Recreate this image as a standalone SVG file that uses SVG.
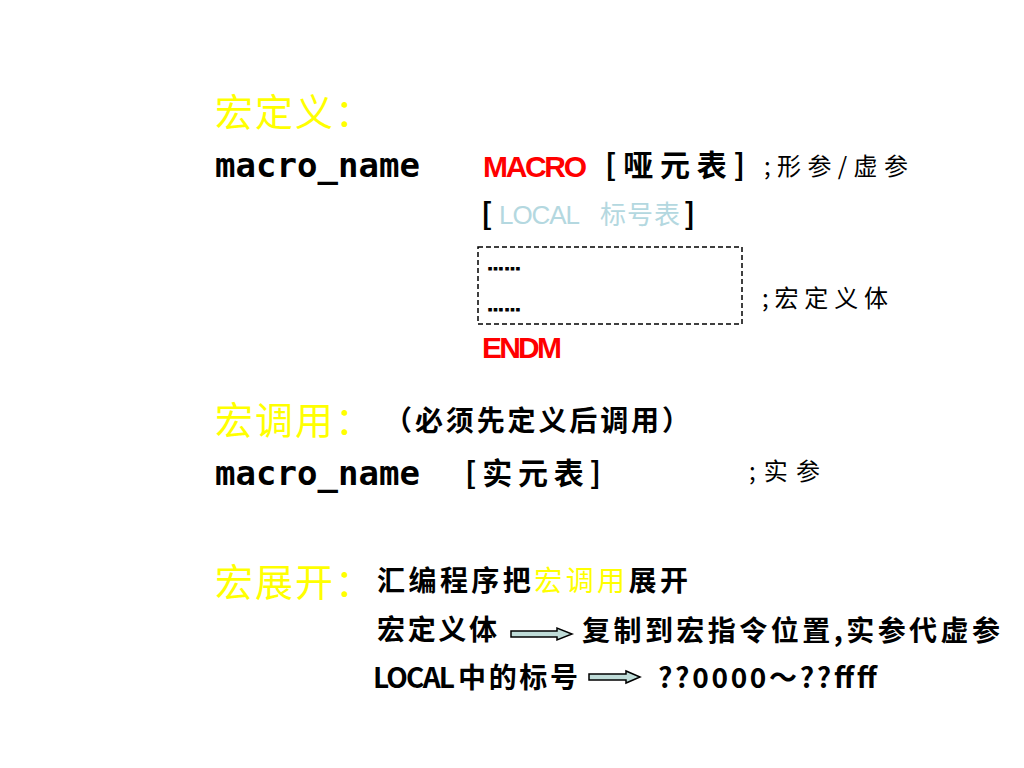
<svg xmlns="http://www.w3.org/2000/svg" width="1024" height="768" viewBox="0 0 1024 768">
<defs>
<style>
.h{font-family:"Noto Sans CJK SC",sans-serif;font-size:38px;letter-spacing:2px;fill:#FFFF00}
.mono{font-family:"DejaVu Sans Mono","Liberation Mono",monospace;font-weight:bold;font-size:34px;fill:#000}
.red{font-family:"Liberation Sans","Noto Sans CJK SC",sans-serif;font-weight:bold;font-size:30px;fill:#FF0000}
.br{font-family:"Noto Sans CJK SC",sans-serif;font-weight:bold;font-size:30px;fill:#000}
.cm{font-family:"Noto Sans CJK SC",sans-serif;font-size:24px;fill:#000}
.t{font-family:"Noto Sans CJK SC",sans-serif;font-weight:bold;font-size:28px;fill:#000}
.dots{font-family:"Liberation Sans",sans-serif;font-weight:bold;font-size:17px;fill:#000;stroke:#000;stroke-width:1.2}
.blue{fill:#B4D8E0}
.arrow{fill:#BFDCD8;stroke:#000;stroke-width:1.5}
</style>
</defs>
<rect width="1024" height="768" fill="#fff"/>
<g id="def">
<text class="h" x="215" y="126">宏定义：</text>
<text class="mono" x="215" y="177" textLength="205">macro_name</text>
<text class="red" x="483" y="177" textLength="104">MACRO</text>
<text class="br" x="605" y="176" font-size="32" textLength="140">[哑元表]</text>
<text class="cm" x="764" y="175" font-size="25" textLength="144">;形参/虚参</text>
<text class="br" x="481" y="225" font-size="26">[</text>
<text class="blue" x="499" y="224" font-family="Liberation Sans,sans-serif" font-size="26" textLength="81">LOCAL</text>
<text class="blue" x="600" y="224" font-family="Noto Sans CJK SC,sans-serif" font-size="26" textLength="80">标号表</text>
<text class="br" x="684" y="225" font-size="26">]</text>
<rect id="body" x="478" y="247" width="264" height="77" fill="none" stroke="#000" stroke-width="1.5" stroke-dasharray="5,3"/>
<text class="dots" x="487" y="270">……</text>
<text class="dots" x="487" y="311">……</text>
<text class="cm" x="762" y="307" font-size="25" textLength="126">;宏定义体</text>
<text class="red" x="482" y="358" textLength="80">ENDM</text>
</g>
<g id="call">
<text class="h" x="215" y="434">宏调用：</text>
<text class="t" x="384" y="431" font-size="30" textLength="306">（必须先定义后调用）</text>
<text class="mono" x="215" y="485" textLength="205">macro_name</text>
<text class="br" x="465" y="484" font-size="32" textLength="136">[实元表]</text>
<text class="cm" x="749" y="480" font-size="25" textLength="71">;实参</text>
</g>
<g id="expand">
<text class="h" x="215" y="596">宏展开：</text>
<text class="t" x="377" y="591" font-size="30" textLength="311">汇编程序把<tspan fill="#FFFF00" font-weight="normal">宏调用</tspan>展开</text>
<text class="t" x="377" y="640" font-size="30" textLength="120">宏定义体</text>
<text class="t" x="582" y="641" font-size="30" textLength="418">复制到宏指令位置,实参代虚参</text>
<text class="t" x="373" y="688" font-size="30" font-family="Liberation Sans,sans-serif" textLength="82">LOCAL</text>
<text class="t" x="458" y="688" font-size="30" textLength="120">中的标号</text>
<text class="t" x="658" y="688" font-size="30" font-family="Liberation Sans,sans-serif" textLength="219">??0000～??ffff</text>
</g>
<g id="connectors">
<path class="arrow" d="M511,631 L557,631 L557,628 L572,634 L557,640 L557,637 L511,637 Z"/>
<path class="arrow" d="M589,674 L626,674 L626,671 L640,677 L626,683 L626,680 L589,680 Z"/>
</g>
</svg>
